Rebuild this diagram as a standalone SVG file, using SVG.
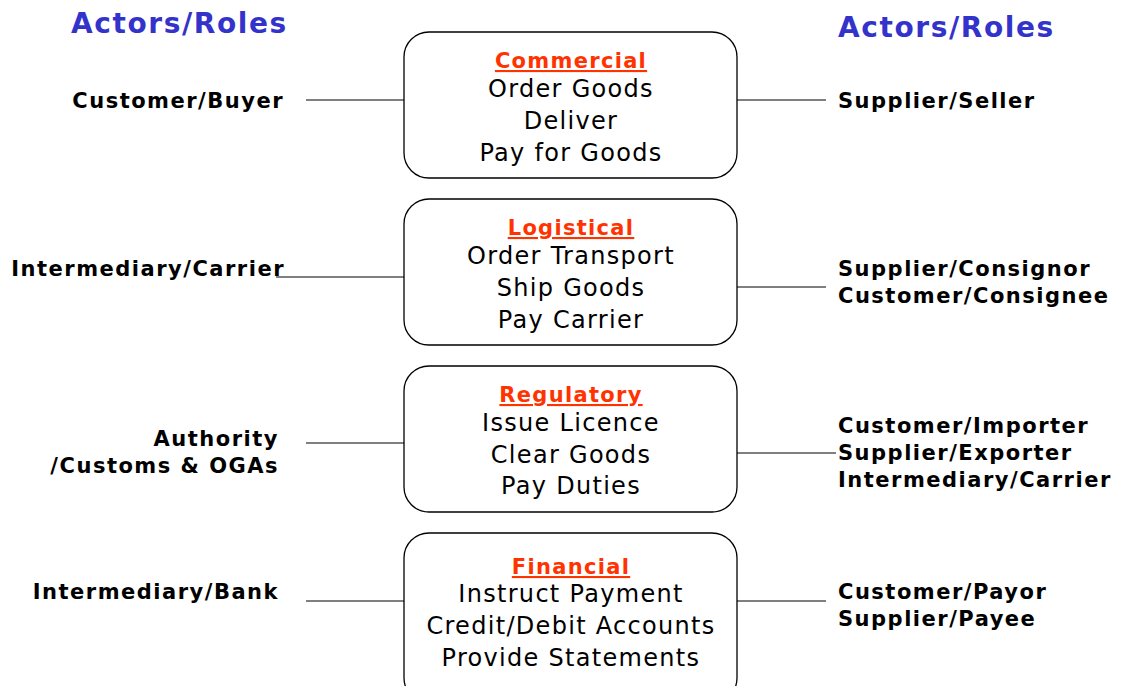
<svg xmlns="http://www.w3.org/2000/svg" width="1123" height="686" viewBox="0 0 1123 686">
<style>
.box{fill:#fff;stroke:#000;stroke-width:1.3}
.hd{font-family:"DejaVu Sans",Verdana,sans-serif;font-weight:bold;font-size:21px;letter-spacing:1.3px;fill:#FF3300;text-anchor:middle;text-decoration:underline}
.bd{font-family:"DejaVu Sans",Verdana,sans-serif;font-size:24px;letter-spacing:1.3px;fill:#000;text-anchor:middle}
.lab{font-family:"DejaVu Sans",Verdana,sans-serif;font-weight:bold;font-size:21px;letter-spacing:1.5px;fill:#000}
.l{text-anchor:end}
.ttl{font-family:"DejaVu Sans",Verdana,sans-serif;font-weight:bold;font-size:28px;letter-spacing:1.6px;fill:#3333CC}
.cn{stroke:#000;stroke-width:1;fill:none}
</style>
<rect width="1123" height="686" fill="#fff"/>
<text class="ttl" x="71" y="33">Actors/Roles</text>
<text class="ttl" x="838" y="37">Actors/Roles</text>
<g id="connectors">
<line class="cn" x1="306" y1="100" x2="404" y2="100"/>
<line class="cn" x1="737" y1="100" x2="826" y2="100"/>
<line class="cn" x1="276" y1="277" x2="404" y2="277"/>
<line class="cn" x1="737" y1="287" x2="826" y2="287"/>
<line class="cn" x1="306" y1="443" x2="404" y2="443"/>
<line class="cn" x1="737" y1="453" x2="836" y2="453"/>
<line class="cn" x1="306" y1="601" x2="404" y2="601"/>
<line class="cn" x1="737" y1="601" x2="826" y2="601"/>
</g>
<g id="commercial">
<rect class="box" x="404" y="32" width="333" height="146" rx="25"/>
<text class="hd" x="571" y="68">Commercial</text>
<text class="bd" x="571" y="97">Order Goods</text>
<text class="bd" x="571" y="129">Deliver</text>
<text class="bd" x="571" y="161">Pay for Goods</text>
</g>
<g id="logistical">
<rect class="box" x="404" y="199" width="333" height="146" rx="25"/>
<text class="hd" x="571" y="235">Logistical</text>
<text class="bd" x="571" y="264">Order Transport</text>
<text class="bd" x="571" y="296">Ship Goods</text>
<text class="bd" x="571" y="328">Pay Carrier</text>
</g>
<g id="regulatory">
<rect class="box" x="404" y="366" width="333" height="146" rx="25"/>
<text class="hd" x="571" y="402">Regulatory</text>
<text class="bd" x="571" y="431">Issue Licence</text>
<text class="bd" x="571" y="463">Clear Goods</text>
<text class="bd" x="571" y="494">Pay Duties</text>
</g>
<g id="financial">
<rect class="box" x="404" y="533" width="333" height="170" rx="25"/>
<text class="hd" x="571" y="574">Financial</text>
<text class="bd" x="571" y="602">Instruct Payment</text>
<text class="bd" x="571" y="634">Credit/Debit Accounts</text>
<text class="bd" x="571" y="666">Provide Statements</text>
</g>
<g id="left-actors">
<text class="lab l" x="284" y="108">Customer/Buyer</text>
<text class="lab l" x="285" y="276">Intermediary/Carrier</text>
<text class="lab l" x="279" y="446">Authority</text>
<text class="lab l" x="279" y="473">/Customs &amp; OGAs</text>
<text class="lab l" x="279" y="599">Intermediary/Bank</text>
</g>
<g id="right-actors">
<text class="lab" x="838" y="108">Supplier/Seller</text>
<text class="lab" x="838" y="276">Supplier/Consignor</text>
<text class="lab" x="838" y="303">Customer/Consignee</text>
<text class="lab" x="838" y="433">Customer/Importer</text>
<text class="lab" x="838" y="460">Supplier/Exporter</text>
<text class="lab" x="838" y="487">Intermediary/Carrier</text>
<text class="lab" x="838" y="599">Customer/Payor</text>
<text class="lab" x="838" y="626">Supplier/Payee</text>
</g>
</svg>
